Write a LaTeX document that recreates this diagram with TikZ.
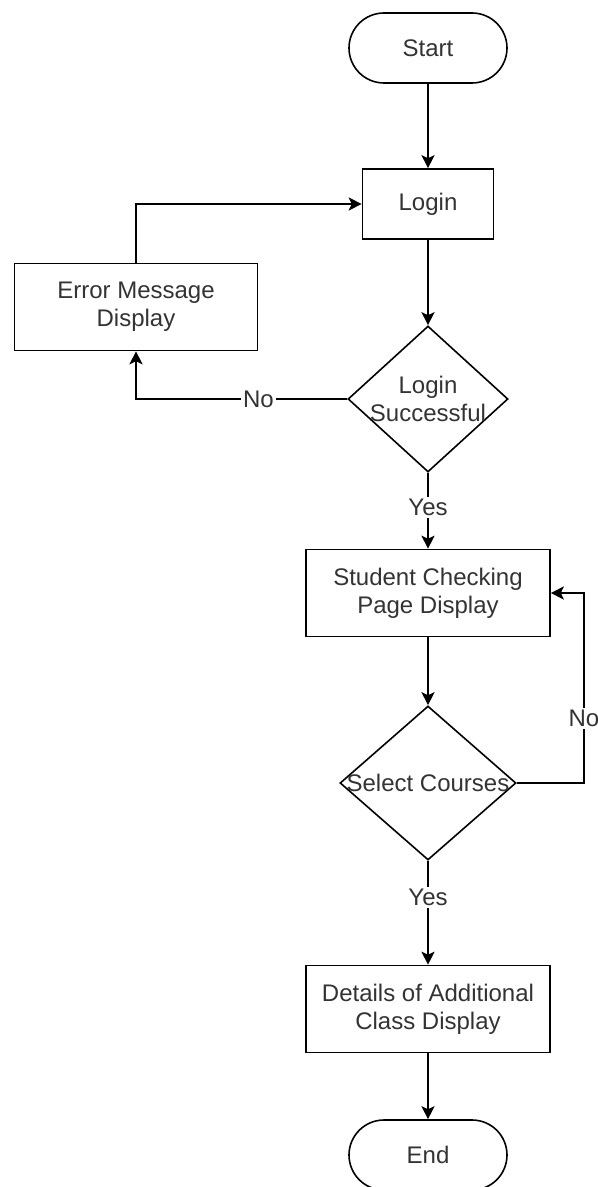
\documentclass[tikz,border=0pt]{standalone}
\usepackage{fontspec}
\setmainfont{Liberation Sans}
\usetikzlibrary{shapes.geometric,arrows.meta}

\begin{document}
\begin{tikzpicture}[x=0.5pt,y=-0.5pt,
    every node/.style={font=\fontsize{12}{14}\selectfont, text=black!80},
    terminal/.style={draw, rectangle, rounded corners=17.5pt, line width=0.8pt,
        minimum width=79pt, minimum height=35pt},
    process/.style={draw, rectangle, line width=0.8pt, align=center,
        minimum width=122pt, minimum height=43.5pt},
    decision/.style={draw, diamond, line width=0.8pt, inner sep=0pt},
    flow/.style={line width=0.8pt, -{Stealth[length=6.5pt, width=6.5pt, inset=1.5pt]}},
    tag/.style={fill=white, inner sep=1pt}]
    % Fix the page size
    \useasboundingbox (0,0) rectangle (598,1187);
    % Draw the blocks
    \node[terminal] (start) at (428,48) {Start};
    \node[process, minimum width=65.5pt, minimum height=35pt] (login) at (428,204) {Login};
    \node[process, minimum width=121.5pt] (err) at (136,307) {Error Message\\Display};
    \node[decision, minimum width=80pt, minimum height=73pt,
        label={[align=center]center:Login\\Successful}] (ok) at (428,399) {};
    \node[process] (check) at (428,593) {Student Checking\\Page Display};
    \node[decision, minimum width=88pt, minimum height=77pt,
        label=center:Select Courses] (sel) at (428,783) {};
    \node[process] (details) at (428,1009) {Details of Additional\\Class Display};
    \node[terminal] (end) at (428,1155) {End};
    % Draw the login loop
    \draw[flow] (start) -- (login);
    \draw[flow] (login) -- (ok);
    \draw[flow] (ok.west) -| node[tag, pos=0.21] {No} (err.south);
    \draw[flow] (err.north) |- (login.west);
    % Draw the course loop
    \draw[flow] (ok.south) -- node[tag, pos=0.46] {Yes} (check.north);
    \draw[flow] (check) -- (sel);
    \coordinate (back) at (584,593);
    \draw[flow] (sel.east) -| node[tag, pos=0.67] {No} (back) -- (check.east);
    \draw[flow] (sel.south) -- node[tag, pos=0.35] {Yes} (details.north);
    \draw[flow] (details) -- (end);
\end{tikzpicture}
\end{document}
